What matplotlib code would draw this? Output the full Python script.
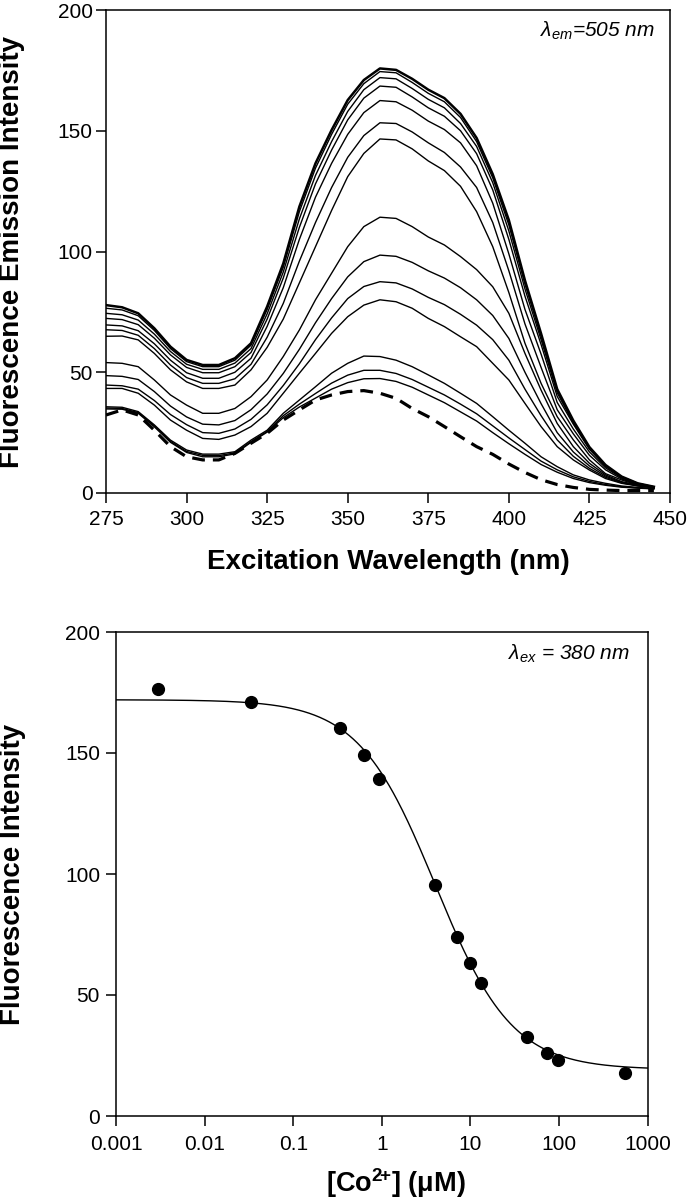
import numpy as np
import matplotlib.pyplot as plt

plt.rcParams['font.family'] = 'Liberation Sans'
plt.rcParams['mathtext.fontset'] = 'custom'
plt.rcParams['mathtext.rm'] = 'Liberation Sans'
plt.rcParams['mathtext.it'] = 'Liberation Sans:italic'
plt.rcParams['mathtext.bf'] = 'Liberation Sans:bold'

# excitation wavelengths (nm), one reading every 5 nm
wavelength = [275, 280, 285, 290, 295, 300, 305, 310, 315, 320, 325, 330,
              335, 340, 345, 350, 355, 360, 365, 370, 375, 380, 385, 390,
              395, 400, 405, 410, 415, 420, 425, 430, 435, 440, 445]

# spectra, from highest to lowest
spec_01 = [77.8, 76.9, 74.4, 68.2, 60.6, 55.1, 53.0, 53.0, 55.8, 62.0, 77.2, 95.0,
           118.6, 136.5, 150.3, 162.7, 171.0, 175.8, 175.2, 171.5, 167.0, 163.5, 157.0, 147.0,
           132.0, 113.0, 88.0, 66.0, 43.0, 30.0, 19.0, 11.6, 6.8, 4.0, 2.6]
spec_02 = [76.5, 75.8, 73.4, 67.3, 59.8, 54.4, 52.3, 52.3, 55.0, 61.2, 76.0, 93.5,
           116.5, 134.5, 148.5, 161.0, 169.5, 174.5, 174.0, 170.0, 165.5, 162.0, 155.5, 145.5,
           130.5, 111.0, 86.5, 65.0, 42.5, 29.5, 18.7, 11.4, 6.7, 4.0, 2.6]
spec_03 = [74.4, 73.8, 71.6, 65.8, 58.6, 53.3, 51.2, 51.2, 53.8, 59.8, 74.2, 91.5,
           113.5, 131.5, 145.5, 158.0, 167.0, 172.0, 171.5, 167.5, 163.0, 159.5, 153.0, 143.5,
           128.5, 108.5, 84.5, 63.5, 41.5, 29.0, 18.4, 11.2, 6.6, 3.9, 2.5]
spec_04 = [72.3, 71.8, 69.7, 64.1, 57.2, 52.0, 49.8, 49.8, 52.3, 58.2, 72.0, 89.0,
           110.0, 128.0, 142.0, 154.5, 163.5, 168.5, 168.0, 164.0, 159.5, 156.0, 150.0, 140.5,
           125.5, 105.0, 81.5, 61.5, 40.0, 28.5, 18.1, 11.0, 6.5, 3.8, 2.5]
spec_05 = [69.6, 69.2, 67.2, 61.8, 55.0, 49.8, 47.5, 47.5, 50.0, 55.8, 69.0, 85.0,
           105.0, 122.5, 136.5, 148.5, 157.5, 162.5, 162.0, 158.5, 154.0, 150.5, 145.0, 135.5,
           120.0, 99.0, 76.0, 57.5, 37.5, 26.5, 17.0, 10.4, 6.2, 3.7, 2.4]
spec_06 = [67.6, 67.3, 65.3, 59.8, 53.0, 47.8, 45.4, 45.4, 47.3, 53.3, 64.5, 78.5,
           96.0, 112.0, 126.5, 139.0, 148.0, 153.3, 153.0, 149.5, 145.0, 141.0, 135.0, 126.5,
           112.0, 92.0, 70.0, 52.0, 34.5, 24.5, 15.6, 9.6, 5.8, 3.5, 2.4]
spec_07 = [64.9, 65.0, 63.4, 57.8, 51.0, 46.0, 43.3, 43.3, 44.7, 51.0, 60.3, 72.0,
           87.0, 102.0, 117.0, 131.0, 140.6, 146.6, 146.2, 142.5, 137.5, 133.5, 127.0, 116.5,
           102.0, 83.0, 62.0, 45.4, 31.6, 22.0, 13.7, 8.0, 5.4, 3.3, 2.3]
spec_08 = [54.0, 53.7, 52.3, 46.8, 40.6, 36.4, 33.0, 33.0, 35.0, 39.9, 46.8, 56.5,
           67.5, 80.0, 91.0, 102.0, 110.3, 114.2, 113.7, 110.3, 106.0, 102.7, 97.9, 92.5,
           85.4, 74.4, 57.8, 42.6, 28.8, 19.2, 12.3, 7.5, 4.7, 3.3, 2.3]
spec_09 = [48.6, 48.3, 47.0, 42.0, 36.0, 31.5, 28.5, 28.2, 30.0, 34.5, 41.0, 49.5,
           59.5, 70.5, 80.5, 89.5, 95.8, 98.5, 98.0, 95.5, 92.0, 89.0, 85.0, 80.0,
           73.5, 64.0, 50.0, 37.0, 25.0, 17.0, 11.2, 7.0, 4.4, 3.1, 2.3]
spec_10 = [44.7, 44.4, 43.0, 38.3, 32.5, 28.3, 25.0, 24.7, 26.5, 30.5, 36.5, 44.5,
           53.5, 63.5, 72.5, 80.5, 85.5, 87.5, 87.0, 84.5, 81.0, 78.0, 74.0, 69.5,
           63.5, 55.0, 43.0, 32.0, 22.0, 15.2, 10.2, 6.5, 4.2, 3.0, 2.3]
spec_11 = [43.3, 43.3, 41.3, 36.4, 30.2, 26.0, 22.6, 22.2, 24.0, 27.5, 33.0, 41.3,
           49.6, 57.8, 66.1, 73.0, 77.8, 80.0, 79.2, 76.5, 72.3, 68.9, 64.7, 60.6,
           53.7, 46.8, 37.1, 27.5, 19.2, 13.7, 9.5, 6.0, 4.0, 2.9, 2.3]
spec_12 = [35.7, 35.5, 33.7, 28.2, 21.9, 17.8, 16.1, 16.1, 17.1, 21.9, 26.0, 33.0,
           38.5, 44.0, 49.6, 53.7, 56.7, 56.5, 55.0, 52.3, 48.9, 45.4, 41.3, 37.1,
           31.6, 26.0, 20.6, 15.0, 10.9, 7.5, 5.4, 4.0, 2.9, 2.3, 1.9]
spec_13 = [35.2, 35.0, 33.3, 27.8, 21.4, 17.2, 15.6, 15.5, 16.6, 21.3, 25.5, 32.0,
           36.8, 41.2, 45.5, 48.8, 50.8, 50.8, 49.5, 47.0, 43.8, 40.6, 36.8, 32.8,
           27.8, 22.8, 18.0, 13.2, 9.6, 6.7, 4.8, 3.5, 2.6, 2.1, 1.8]
spec_14 = [34.8, 34.7, 33.0, 27.4, 21.0, 16.8, 15.0, 15.0, 16.2, 21.0, 25.2, 31.2,
           35.6, 39.3, 43.0, 45.7, 47.3, 47.4, 46.2, 43.8, 40.6, 37.4, 33.6, 29.8,
           25.0, 20.4, 16.0, 11.8, 8.6, 6.0, 4.3, 3.2, 2.4, 2.0, 1.7]
spec_dashed = [32.3, 34.4, 32.3, 26.0, 19.2, 15.0, 13.7, 13.7, 16.4, 20.6, 24.7, 30.2,
               34.4, 38.5, 40.6, 42.0, 42.4, 41.3, 39.2, 35.0, 31.6, 27.5, 23.3, 19.2,
               16.0, 12.0, 8.5, 5.5, 3.5, 2.3, 1.5, 1.2, 1.0, 1.0, 1.0]

# titration points
co_conc = [0.003, 0.0335, 0.333, 0.634, 0.94, 3.99, 7.0, 10.0, 13.0, 43.0, 73.5, 98.0, 550.0]
co_intensity = [176.3, 171.1, 160.3, 149.3, 139.3, 95.3, 74.1, 63.2, 54.8, 32.6, 25.9, 23.1, 17.7]

# sigmoidal fit parameters
fit_top = 172.0
fit_bottom = 19.2
fit_ic50 = 4.0
fit_hill = 1.0


def style_axes(ax):
    for s in ax.spines.values():
        s.set_linewidth(1.1)
    ax.tick_params(direction='out', length=7.5, width=1.1, labelsize=15,
                   top=False, right=False)


fig = plt.figure(figsize=(6.87, 11.99), dpi=100)

# ---- top panel: excitation spectra
ax1 = fig.add_axes([106/687, 1-493/1199, 564/687, 483/1199])
solid = [spec_02, spec_03, spec_04, spec_05, spec_06, spec_07, spec_08,
         spec_09, spec_10, spec_11, spec_12, spec_13, spec_14]
for s in solid:
    ax1.plot(wavelength, s, color='black', lw=1.0)
ax1.plot(wavelength, spec_01, color='black', lw=1.8)
ax1.plot(wavelength, spec_dashed, color='black', lw=2.3, dashes=(4, 2.5))
ax1.set_xlim(275, 450)
ax1.set_ylim(0, 200)
ax1.set_xticks(range(275, 451, 25))
ax1.set_yticks(range(0, 201, 50))
style_axes(ax1)
ax1.tick_params(axis='x', pad=5)
ax1.tick_params(axis='y', pad=2)
ax1.text(1 - 15/564, 1 - 27/483, r'$\lambda_{em}$=505 nm', transform=ax1.transAxes,
         ha='right', va='baseline', fontsize=15, fontstyle='italic')

fig.text(12/687, 1 - 251.5/1199, 'Fluorescence Emission Intensity', rotation=90,
         ha='center', va='center', fontsize=20, fontweight='bold')
fig.text(388/687, 1 - 562/1199, 'Excitation Wavelength (nm)',
         ha='center', va='center', fontsize=20, fontweight='bold')

# ---- bottom panel: titration curve
ax2 = fig.add_axes([116/687, 1-1116/1199, 531.7/687, 484/1199])
x_fit = np.logspace(-3, 3, 400)
y_fit = fit_bottom + (fit_top - fit_bottom) / (1 + (x_fit / fit_ic50) ** fit_hill)
ax2.plot(x_fit, y_fit, color='black', lw=1.0)
ax2.plot(co_conc, co_intensity, 'o', color='black', ms=8.5)
ax2.set_xscale('log')
ax2.set_xlim(0.001, 1000)
ax2.set_ylim(0, 200)
ax2.set_xticks([0.001, 0.01, 0.1, 1, 10, 100, 1000])
ax2.set_xticklabels(['0.001', '0.01', '0.1', '1', '10', '100', '1000'])
ax2.minorticks_off()
ax2.set_yticks(range(0, 201, 50))
style_axes(ax2)
ax2.tick_params(axis='x', pad=6)
ax2.tick_params(axis='y', pad=4)
ax2.text(1 - 18/531.7, 1 - 28/484, r'$\lambda_{ex}$ = 380 nm', transform=ax2.transAxes,
         ha='right', va='baseline', fontsize=15, fontstyle='italic')

fig.text(13/687, 1 - 874/1199, 'Fluorescence Intensity', rotation=90,
         ha='center', va='center', fontsize=20, fontweight='bold')
fig.text(396/687, 1 - 1183/1199, r'[Co$^{\mathbf{2}\!\mathbf{+}}$] (μM)',
         ha='center', va='center', fontsize=19.5, fontweight='bold')

fig.savefig('out.png', dpi=100)
